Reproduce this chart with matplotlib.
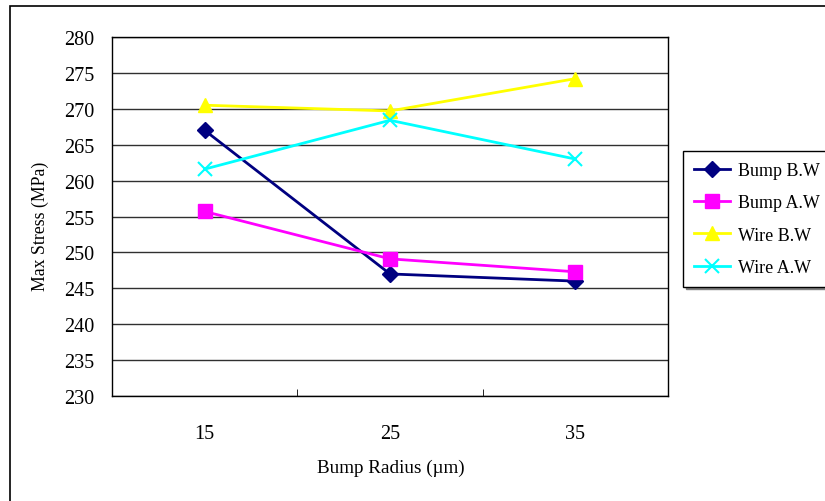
import matplotlib
matplotlib.use("Agg")
import matplotlib.pyplot as plt
from matplotlib.patches import Rectangle

plt.rcParams['font.family'] = ['Liberation Serif', 'DejaVu Serif']

radius = ["15", "25", "35"]
bump_bw = [267.0, 247.0, 246.0]
bump_aw = [255.7, 249.1, 247.3]
wire_bw = [270.5, 269.7, 274.2]
wire_aw = [261.6, 268.4, 263.0]
y_ticks = list(range(230, 281, 5))

W, H = 825, 502
fig = plt.figure(figsize=(W / 100, H / 100), dpi=100)
fig.patch.set_facecolor("white")

# outer chart border
fig.add_artist(Rectangle((10 / W, -0.05), 1.1, 1 - 7 / H + 0.05,
                         transform=fig.transFigure, fill=False,
                         edgecolor="black", linewidth=1.2))

ax = fig.add_axes([112 / W, 1 - 397 / H, (668 - 112) / W, (397 - 38) / H])
x = list(range(len(radius)))

ax.plot(x, bump_bw, color="#000080", marker="D", markersize=8.5, lw=2, label="Bump B.W")
ax.plot(x, bump_aw, color="#FF00FF", marker="s", markersize=9.5, lw=2, label="Bump A.W")
ax.plot(x, wire_bw, color="#FFFF00", marker="^", markersize=10.5, lw=2, label="Wire B.W")
ax.plot(x, wire_aw, color="#00FFFF", marker="x", markersize=10.5, mew=1.5, lw=2, label="Wire A.W")

ax.set_xlim(-0.5, 2.5)
ax.set_ylim(230, 280)
ax.set_yticks(y_ticks)
ax.yaxis.grid(True, color="#303030", linewidth=1)
ax.set_axisbelow(True)

ax.set_xticks(x)
ax.set_xticklabels(radius)
ax.set_xticks([0.5, 1.5], minor=True)
ax.tick_params(axis="x", which="major", length=0, pad=20, labelsize=14.5)
ax.tick_params(axis="x", which="minor", direction="in", length=5, color="black")
ax.tick_params(axis="y", length=0, pad=13, labelsize=14.5)

for s in ax.spines.values():
    s.set_color("black")
    s.set_linewidth(1)

fig.text(391 / W, 1 - 468 / H, "Bump Radius (\u00b5m)", fontsize=13.8,
         ha="center", va="center")
fig.text(40 / W, 1 - 226 / H, "Max Stress (MPa)", fontsize=12.8,
         ha="center", va="center", rotation=90)

leg = fig.legend(loc="upper left", bbox_to_anchor=(683 / W, 1 - 152 / H),
                 fontsize=13, frameon=True, fancybox=False,
                 shadow={"color": "#808080", "alpha": 1},
                 handlelength=2.0, borderpad=0.6, labelspacing=0.85,
                 handletextpad=0.45, borderaxespad=0)
leg.get_frame().set_edgecolor("black")
leg.get_frame().set_linewidth(1)

fig.savefig("out.png", dpi=100, facecolor="white")
